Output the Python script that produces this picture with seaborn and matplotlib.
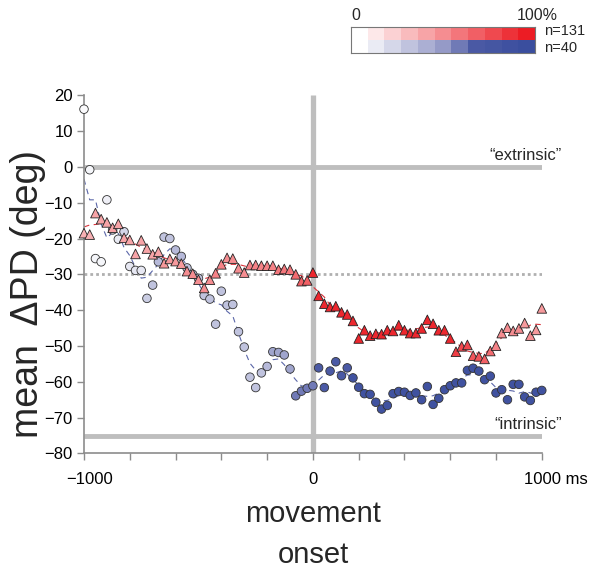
import numpy as np
import pandas as pd
import seaborn as sns
import matplotlib.pyplot as plt
from matplotlib import transforms
from matplotlib.colors import LinearSegmentedColormap

# time grid (ms relative to movement onset), one sample every 25 ms
time_ms = np.arange(-1000, 1001, 25)

# mean change of preferred direction (deg)
red_dpd = [-18.5, -18.9, -12.9, -14.6, -15.5, -17.0, -15.9, -19.8, -20.4, -24.3,
           -20.5, -22.8, -24.4, -23.7, -26.9, -25.7, -26.3, -27.0, -29.1, -29.8,
           -31.5, -33.8, -31.5, -29.7, -27.2, -25.4, -25.6, -28.3, -29.5, -27.4,
           -27.4, -27.6, -27.6, -27.6, -28.7, -28.5, -28.7, -30.0, -31.9, -31.7,
           -29.5, -36.0, -38.2, -39.1, -38.9, -40.6, -41.2, -43.0, -47.9, -45.6,
           -47.1, -46.6, -46.7, -45.6, -45.8, -44.2, -45.6, -46.4, -46.4, -45.1,
           -42.7, -43.8, -45.6, -45.6, -47.9, -51.6, -50.1, -49.7, -52.7, -52.9,
           -53.6, -51.4, -49.9, -46.4, -44.9, -45.8, -45.1, -43.6, -47.1, -45.5,
           -39.5]
blue_dpd = [16.1, -0.8, -25.6, -26.5, -9.2, -17.6, -20.2, -18.1, -27.8, -28.9,
            -28.9, -36.7, -33.0, -26.5, -19.6, -20.0, -23.2, -25.0, -28.2, -30.0,
            -31.1, -35.9, -36.9, -43.9, -34.7, -38.6, -38.4, -46.0, -50.3, -58.7,
            -61.6, -57.5, -55.7, -51.6, -51.8, -52.5, -56.4, -63.9, -62.6, -61.8,
            -61.1, -56.1, -61.6, -57.0, -54.4, -58.3, -56.1, -58.9, -61.5, -63.3,
            -63.5, -65.7, -67.6, -66.6, -63.3, -62.7, -62.9, -63.8, -63.1, -65.0,
            -61.3, -66.3, -64.6, -62.2, -61.1, -60.3, -60.3, -56.8, -56.2, -57.0,
            -59.4, -58.4, -63.1, -62.2, -65.0, -60.7, -60.7, -64.2, -65.2, -62.9,
            -62.4]

# fraction of cells (0..1) used for the marker colour
red_frac = [0.35, 0.35, 0.4, 0.4, 0.4, 0.4, 0.4, 0.4, 0.4, 0.4,
            0.4, 0.4, 0.4, 0.4, 0.45, 0.45, 0.45, 0.45, 0.5, 0.5,
            0.5, 0.5, 0.5, 0.55, 0.55, 0.5, 0.5, 0.5, 0.5, 0.55,
            0.55, 0.55, 0.55, 0.55, 0.6, 0.6, 0.6, 0.65, 0.7, 0.7,
            0.95, 0.95, 0.95, 0.95, 0.95, 0.95, 0.95, 0.95, 0.95, 0.95,
            0.95, 0.95, 0.95, 0.95, 0.95, 0.95, 0.95, 0.95, 0.95, 0.95,
            0.95, 0.95, 0.95, 0.95, 0.95, 0.85, 0.8, 0.8, 0.75, 0.75,
            0.7, 0.65, 0.55, 0.5, 0.5, 0.5, 0.5, 0.45, 0.5, 0.45,
            0.45]
blue_frac = [0.02, 0.05, 0.05, 0.05, 0.08, 0.2, 0.1, 0.2, 0.12, 0.12,
             0.12, 0.25, 0.3, 0.35, 0.3, 0.3, 0.35, 0.35, 0.3, 0.3,
             0.3, 0.3, 0.3, 0.3, 0.3, 0.3, 0.3, 0.3, 0.3, 0.3,
             0.3, 0.3, 0.35, 0.45, 0.45, 0.45, 0.45, 0.6, 0.6, 0.6,
             0.6, 0.7, 0.7, 0.7, 0.7, 0.7, 0.7, 0.9, 0.9, 0.9,
             0.9, 0.9, 0.9, 0.9, 0.9, 0.9, 0.9, 0.9, 0.9, 0.9,
             0.9, 0.9, 0.9, 0.9, 0.9, 0.9, 0.9, 0.9, 0.9, 0.9,
             0.9, 0.9, 0.9, 0.9, 0.9, 0.9, 0.9, 0.9, 0.9, 0.9,
             0.9]

x_ticks = [-1000, -800, -600, -400, -200, 0, 200, 400, 600, 800, 1000]
x_labels = ["\u22121000", "", "", "", "", "0", "", "", "", "", "1000 ms"]
y_ticks = [-80, -70, -60, -50, -40, -30, -20, -10, 0, 10, 20]

red_cmap = LinearSegmentedColormap.from_list("red", ["#FFFFFF", "#EC1C24"])
blue_cmap = LinearSegmentedColormap.from_list(
    "blue", [(0, "#FFFFFF"), (0.5, "#969BC8"), (0.7, "#4B5AA5"), (1, "#3A4E9E")])

red = pd.DataFrame({"time": time_ms, "dpd": red_dpd, "frac": red_frac})
blue = pd.DataFrame({"time": time_ms, "dpd": blue_dpd, "frac": blue_frac})
for d in (red, blue):
    d["smooth"] = d["dpd"].rolling(5, center=True, min_periods=1).mean()

sns.set_style("ticks")
plt.rcParams["font.family"] = ["Liberation Sans", "DejaVu Sans"]

fig = plt.figure(figsize=(6, 5.76), dpi=100)
ax = fig.add_axes([0.14, 0.2127, 0.763, 0.622])

# reference lines
grey = "#BEBEBE"
ax.plot([-1000, 1000], [0, 0], color=grey, lw=3.5, solid_capstyle="butt", zorder=1)
ax.plot([-1000, 1000], [-75, -75], color=grey, lw=3.5, solid_capstyle="butt", zorder=1)
ax.plot([0, 0], [-80, 20], color=grey, lw=3.8, solid_capstyle="butt", zorder=1)
ax.plot([-1000, 1000], [-30, -30], color="#B0B0B0", lw=2, ls=(0, (1, 1.1)), zorder=1)

# smoothed traces
sns.lineplot(data=blue, x="time", y="smooth", color="#5A66A8", lw=0.8,
             linestyle=(0, (5, 4)), ax=ax, zorder=2)
sns.lineplot(data=red, x="time", y="smooth", color="#D8323A", lw=0.8,
             linestyle=(0, (5, 4)), ax=ax, zorder=2)

# points
sns.scatterplot(data=blue, x="time", y="dpd", hue="frac", palette=blue_cmap,
                hue_norm=(0, 1), marker="o", s=38, edgecolor="#333333",
                linewidth=0.6, legend=False, ax=ax, zorder=3, clip_on=False)
sns.scatterplot(data=red, x="time", y="dpd", hue="frac", palette=red_cmap,
                hue_norm=(0, 1), marker="^", s=48, edgecolor="#222222",
                linewidth=0.6, legend=False, ax=ax, zorder=4, clip_on=False)

ax.text(1087, 3.3, "\u201cextrinsic\u201d", ha="right", va="center", fontsize=12, clip_on=False)
ax.text(1087, -71.8, "\u201cintrinsic\u201d", ha="right", va="center", fontsize=12, clip_on=False)

ax.set_xlim(-1000, 1000)
ax.set_ylim(-80, 20)
ax.set_xticks(x_ticks, labels=x_labels)
ax.set_yticks(y_ticks)
ax.set_yticklabels([str(v).replace("-", "\u2212") for v in y_ticks])
ax.tick_params(direction="out", length=5, width=1, color="#8C8C8C",
               labelcolor="black", labelsize=12)
ax.tick_params(axis="x", pad=8)
ax.tick_params(axis="y", pad=3)
labs = ax.get_xticklabels()
labs[0].set_transform(labs[0].get_transform() + transforms.ScaledTranslation(0.06, 0, fig.dpi_scale_trans))
labs[-1].set_transform(labs[-1].get_transform() + transforms.ScaledTranslation(0.14, 0, fig.dpi_scale_trans))

sns.despine(ax=ax)
for side in ("left", "bottom"):
    ax.spines[side].set_color("#8C8C8C")
    ax.spines[side].set_linewidth(1.2)

ax.set_ylabel("mean  \u0394PD (deg)", fontsize=27, va="center")
ax.yaxis.set_label_coords(-0.122, 0.446)
ax.set_xlabel("movement\nonset", fontsize=21, labelpad=10, linespacing=1.55)

# colour key
lax = fig.add_axes([351 / 600, 1 - 53 / 576, 184 / 600, 26 / 576])
steps = np.linspace(0, 1, 11)
cells = np.stack([red_cmap(steps)[:, :3], blue_cmap(steps)[:, :3]])
lax.imshow(cells, aspect="auto", interpolation="nearest")
lax.set_xticks([])
lax.set_yticks([])
for sp in lax.spines.values():
    sp.set_color("#777777")
    sp.set_linewidth(0.8)
fig.text(356 / 600, 1 - 15 / 576, "0", ha="center", va="center", fontsize=11.5)
fig.text(537 / 600, 1 - 15 / 576, "100%", ha="center", va="center", fontsize=11.5)
fig.text(544 / 600, 1 - 31 / 576, "n=131", ha="left", va="center", fontsize=10.5)
fig.text(544 / 600, 1 - 48 / 576, "n=40", ha="left", va="center", fontsize=10.5)

fig.savefig("out.png", dpi=100)
